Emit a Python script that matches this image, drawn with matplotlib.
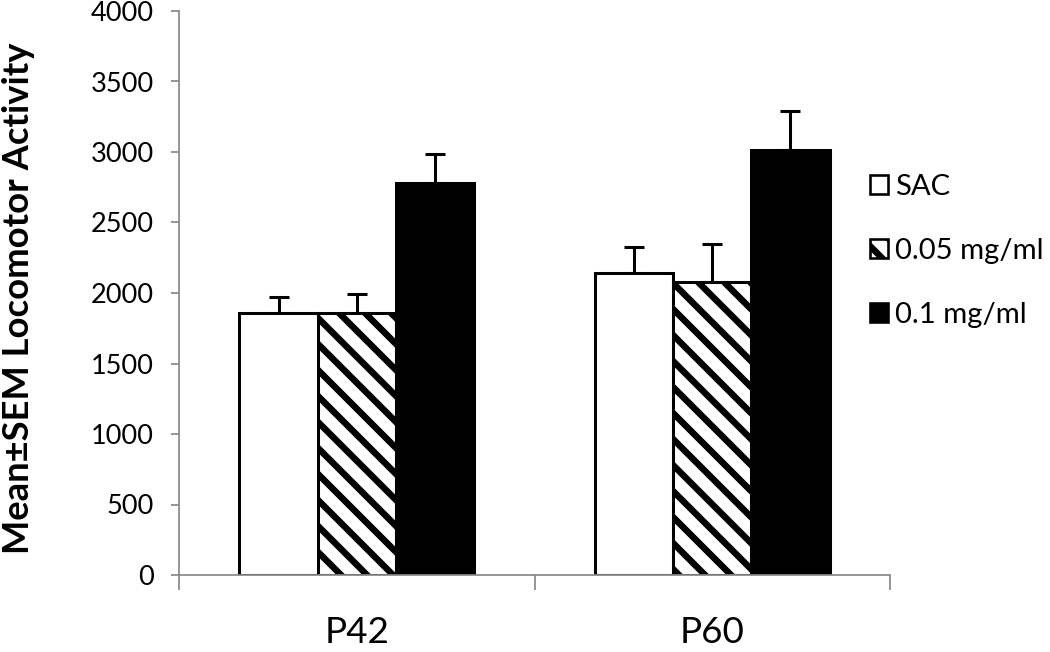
import numpy as np
import matplotlib
matplotlib.use("Agg")
import matplotlib.pyplot as plt
from matplotlib.patches import Patch

plt.rcParams['font.family'] = ['Lato', 'DejaVu Sans']
plt.rcParams['hatch.linewidth'] = 3.0

groups = ['P42', 'P60']
series = ['SAC', '0.05 mg/ml', '0.1 mg/ml']
means = [[1860, 2140], [1860, 2075], [2780, 3015]]
sems = [[110, 185], [135, 270], [205, 275]]
faces = ['white', 'white', 'black']
hatches = [None, '\\\\', None]

DPI = 156
fig = plt.figure(figsize=(1050 / DPI, 652 / DPI), dpi=DPI)
ax = fig.add_axes([179 / 1050, 77 / 652, 711 / 1050, 564 / 652])

x = np.arange(len(groups))
w = 0.22
for k in range(3):
    pos = x + (k - 1) * w
    ax.bar(pos, means[k], w, color=faces[k], edgecolor='black', linewidth=1.4,
           hatch=hatches[k], zorder=2)
    ax.errorbar(pos, means[k], yerr=[np.zeros(2), sems[k]], fmt='none',
                ecolor='black', elinewidth=1.4, capsize=4.8, capthick=1.4, zorder=1)

ax.set_xlim(-0.5, 1.5)
ax.set_ylim(0, 4000)
ax.set_yticks(np.arange(0, 4001, 500))
ax.tick_params(axis='y', labelsize=12.5, direction='out', length=3.7, width=0.8,
               color='#888888', pad=8)
ax.set_xticks([-0.5, 0.5, 1.5])
ax.set_xticklabels([])
ax.set_xticks(x, minor=True)
ax.set_xticklabels(groups, minor=True, fontsize=17)
ax.tick_params(axis='x', which='major', direction='out', length=7, width=0.8,
               color='#888888')
ax.tick_params(axis='x', which='minor', length=0, pad=19)
for s in ['top', 'right']:
    ax.spines[s].set_visible(False)
for s in ['left', 'bottom']:
    ax.spines[s].set_color('#888888')
    ax.spines[s].set_linewidth(0.8)

ax.set_ylabel('Mean\u00b1SEM Locomotor Activity', fontsize=16.8, fontweight='bold')
ax.yaxis.set_label_coords(-144 / 711, 0.49)

handles = [Patch(facecolor=faces[k], edgecolor='black', linewidth=1.2,
                 hatch=hatches[k]) for k in range(3)]
fig.legend(handles, series, loc='upper left', bbox_to_anchor=(858 / 1050, 490 / 652),
           frameon=False, fontsize=13.5, handlelength=0.62, handleheight=0.62,
           handletextpad=0.25, labelspacing=1.3, borderaxespad=0)

fig.savefig('out.png', dpi=DPI)
